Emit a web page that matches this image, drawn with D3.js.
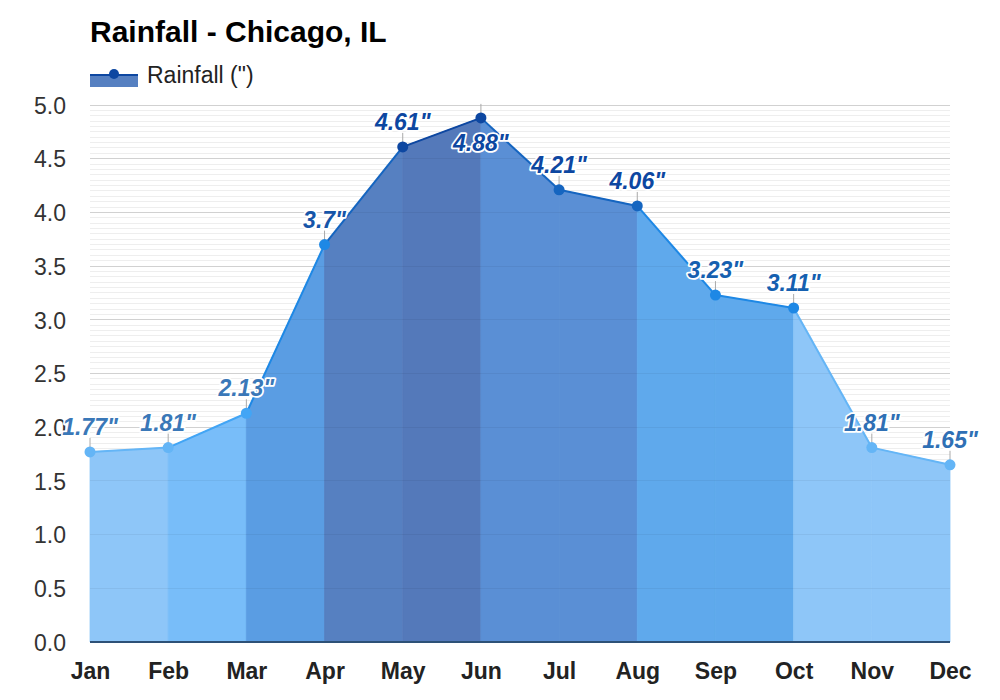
<!DOCTYPE html>
<html><head><meta charset="utf-8">
<script src="https://cdn.jsdelivr.net/npm/d3@7"></script>
<style>body{margin:0;background:#fff;font-family:Arial,"Liberation Sans",sans-serif;}</style>
</head><body>
<svg id="c" width="1000" height="700"></svg>
<script>
const months = ["Jan","Feb","Mar","Apr","May","Jun","Jul","Aug","Sep","Oct","Nov","Dec"];
const rainfall = [1.77,1.81,2.13,3.7,4.61,4.88,4.21,4.06,3.23,3.11,1.81,1.65];
const yTicks = [0,0.5,1.0,1.5,2.0,2.5,3.0,3.5,4.0,4.5,5.0];
const pointColors = ["#64b5f6","#64b5f6","#42a5f5","#1e88e5","#0d47a1","#0d47a1","#1565c0","#1565c0","#1e88e5","#1e88e5","#64b5f6","#64b5f6"];
const labelColors = ["#3a78b8","#3a78b8","#3a78b8","#1655a8","#0d47a1","#0d47a1","#0d47a1","#0d47a1","#1560b0","#1560b0","#2f70b5","#2f70b5"];
const segLineColors = ["#64b5f6","#42a5f5","#1e88e5","#1565c0","#0d47a1","#1565c0","#1565c0","#1e88e5","#1e88e5","#64b5f6","#64b5f6"];
const segFillColors = ["#8ec6f8","#78bdf9","#5a9de3","#5680c1","#5479ba","#5a8fd5","#5a8fd5","#5fa9ec","#5fa9ec","#8ec6f8","#8ec6f8"];

const FONT = "Arial,'Liberation Sans',sans-serif";
const svg = d3.select("#c");
const m = {l:90, r:950, t:105, b:642};
const x = d3.scalePoint().domain(months).range([m.l, m.r]);
const y = d3.scaleLinear().domain([0,5]).range([m.b, m.t]);

// minor grid
const minor = d3.range(0, 5.001, 0.05);
svg.append("g").selectAll("line").data(minor).join("line")
  .attr("x1", m.l).attr("x2", m.r).attr("y1", d=>y(d)).attr("y2", d=>y(d))
  .attr("stroke", "#eeeeee").attr("stroke-width", 1).attr("shape-rendering","crispEdges");
svg.append("g").selectAll("line").data(yTicks).join("line")
  .attr("x1", m.l).attr("x2", m.r).attr("y1", d=>y(d)).attr("y2", d=>y(d))
  .attr("stroke", "#dddddd").attr("stroke-width", 1).attr("shape-rendering","crispEdges");

// area segments
const segs = d3.range(months.length-1).map(i => ({i, a:[months[i], rainfall[i]], b:[months[i+1], rainfall[i+1]]}));
const area = d3.area().x(d=>x(d[0])).y0(y(0)).y1(d=>y(d[1]));
svg.append("g").selectAll("path").data(segs).join("path")
  .attr("d", d=>area([d.a,d.b]))
  .attr("fill", d=>segFillColors[d.i])
  .attr("stroke", d=>segFillColors[d.i]).attr("stroke-width", 0.8);

// faint grid through the fill
svg.append("g").selectAll("line").data(yTicks).join("line")
  .attr("x1", m.l).attr("x2", m.r).attr("y1", d=>y(d)).attr("y2", d=>y(d))
  .attr("stroke", "#000").attr("stroke-opacity", 0.05).attr("stroke-width", 1).attr("shape-rendering","crispEdges");

// lines
const line = d3.line().x(d=>x(d[0])).y(d=>y(d[1]));
svg.append("g").selectAll("path").data(segs).join("path")
  .attr("d", d=>line([d.a,d.b])).attr("fill","none")
  .attr("stroke", d=>segLineColors[d.i]).attr("stroke-width", 2);

// x axis line
svg.append("line").attr("x1", m.l).attr("x2", m.r).attr("y1", y(0)).attr("y2", y(0))
  .attr("stroke", "#2d5177").attr("stroke-width", 2);

// y axis labels
const yAxis = d3.axisLeft(y).tickValues(yTicks).tickFormat(d3.format(".1f")).tickSize(0).tickPadding(0);
const gy = svg.append("g").attr("transform", `translate(${m.l-24},0)`).call(yAxis);
gy.select(".domain").remove();
gy.selectAll("text").attr("font-size", 23).attr("fill", "#333").attr("font-family",FONT).attr("dy","0.36em");

// x axis labels
const xAxis = d3.axisBottom(x).tickSize(0).tickPadding(0);
const gx = svg.append("g").attr("transform", `translate(0,${y(0)+37})`).call(xAxis);
gx.select(".domain").remove();
gx.selectAll("text").attr("font-size", 23).attr("font-weight","bold").attr("fill", "#222").attr("font-family",FONT).attr("dy","0");

// connectors
const pts = months.map((mo,i)=>({mo, v:rainfall[i], i}));
svg.append("g").selectAll("line").data(pts).join("line")
  .attr("x1", d=>x(d.mo)).attr("x2", d=>x(d.mo))
  .attr("y1", d=>y(d.v)).attr("y2", d=>y(d.v)-14)
  .attr("stroke", "#aaaaaa").attr("stroke-width", 1);

// points
svg.append("g").selectAll("circle").data(pts).join("circle")
  .attr("cx", d=>x(d.mo)).attr("cy", d=>y(d.v)).attr("r", 5.5)
  .attr("fill", d=>pointColors[d.i]);

// labels
svg.append("g").selectAll("text").data(pts).join("text")
  .attr("x", d=>x(d.mo)).attr("y", d=> d.i===5 ? y(d.v)+33 : y(d.v)-17)
  .attr("text-anchor","middle")
  .attr("font-size", 23).attr("font-weight","bold").attr("font-style","italic")
  .attr("font-family",FONT)
  .attr("fill", d=>labelColors[d.i])
  .attr("stroke","#fff").attr("stroke-width",3.5).attr("paint-order","stroke").attr("stroke-linejoin","round")
  .text(d=>d.v + '"');

// title
svg.append("text").attr("x", 90).attr("y", 42).text("Rainfall - Chicago, IL")
  .attr("font-size", 30).attr("font-weight","bold").attr("fill","#000").attr("font-family",FONT);

// legend
svg.append("rect").attr("x", 90).attr("y", 75).attr("width", 48).attr("height", 12).attr("fill", "#5680c1");
svg.append("line").attr("x1", 90).attr("x2", 138).attr("y1", 75).attr("y2", 75).attr("stroke","#0d47a1").attr("stroke-width",2);
svg.append("circle").attr("cx", 114).attr("cy", 74).attr("r", 5).attr("fill","#0d47a1");
svg.append("text").attr("x", 147).attr("y", 83).text('Rainfall (")')
  .attr("font-size", 23).attr("fill","#222").attr("font-family",FONT);
</script>
</body></html>
